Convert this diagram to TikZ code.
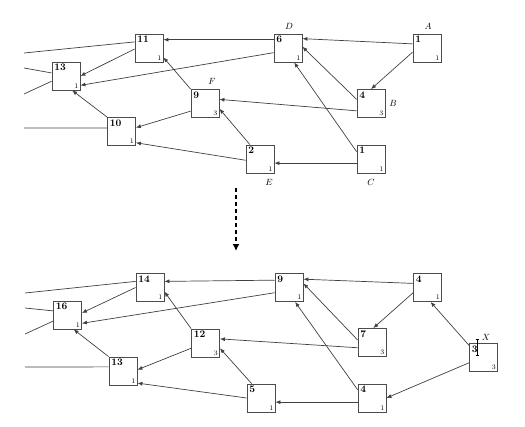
\documentclass[tikz,border=0pt]{standalone}
\usepackage{tikz}
\usetikzlibrary{arrows.meta,calc}

\tikzset{
  blk/.style={draw=black!70, line width=0.8pt, minimum size=28pt, inner sep=0pt, fill=white},
  num/.style={label={[anchor=north west, inner sep=2.5pt, font=\bfseries]north west:#1}},
  wt/.style={label={[anchor=south east, inner sep=1.8pt, font=\scriptsize]south east:#1}},
  lbl/.style={font=\small, inner sep=0pt},
  edge/.style={draw=black!75, line width=0.7pt, -{Latex[length=5pt,width=4pt]}},
  wire/.style={draw=black!75, line width=0.7pt},
}

\begin{document}
\begin{tikzpicture}[x=1pt,y=-1pt]
    \useasboundingbox (0,0) rectangle (525,426);

    % upper graph
    \node[blk,num=11,wt=1] (a11) at (149,48) {};
    \node[blk,num=6,wt=1] (a6) at (288,48) {};
    \node[blk,num=1,wt=1] (aA) at (427,48) {};
    \node[blk,num=4,wt=3] (aB) at (371,103.5) {};
    \node[blk,num=1,wt=1] (aC) at (371,159) {};
    \node[blk,num=2,wt=1] (aE) at (260,159) {};
    \node[blk,num=9,wt=3] (aF) at (205,103.5) {};
    \node[blk,num=13,wt=1] (a13) at (66,76) {};
    \node[blk,num=10,wt=1] (a10) at (121.5,131.5) {};

    \node[lbl] (lA) at (428,26) {$A$};
    \node[lbl] (lB) at (393,103) {$B$};
    \node[lbl] (lC) at (371,182) {$C$};
    \node[lbl] (lD) at (289,26) {$D$};
    \node[lbl] (lE) at (269,182) {$E$};
    \node[lbl] (lF) at (212,81) {$F$};

    \draw[edge] (aA.164) -- (a6.33);
    \draw[edge] (aA.196) -- (aB.north);
    \draw[edge] (aB.164) -- (a6.5);
    \draw[edge] (aC.153) -- (a6.293);
    \draw[edge] (aC.196) -- (aE.344);
    \draw[edge] (aB.207) -- (aF.16);
    \draw[edge] (aE.125) -- (aF.340);
    \draw[edge] (aE.185) -- (a10.322);
    \draw[edge] (aF.208) -- (a10.15);
    \draw[edge] (aF.north west) -- (a11.327);
    \draw[edge] (a6.150) -- (a11.30);
    \draw[edge] (a6.198) -- (a13.327);
    \draw[edge] (a11.184) -- (a13.east);
    \draw[edge] (a10.north west) -- (a13.293);

    \coordinate (wa1) at (24,53);
    \coordinate (wa2) at (24,68);
    \coordinate (wa3) at (24,94);
    \coordinate (wa4) at (24,128);
    \draw[wire] (a11.157) -- (wa1);
    \draw[wire] (a13.168) -- (wa2);
    \draw[wire] (a13.200) -- (wa3);
    \draw[wire] (a10.166) -- (wa4);

    % step between the two
    \coordinate (d1) at (236,188);
    \coordinate (d2) at (236,251);
    \draw[line width=1.8pt, dash pattern=on 4pt off 3pt, -{Latex[length=7pt,width=7pt]}] (d1) -- (d2);

    % lower graph
    \node[blk,num=14,wt=1] (b14) at (150,287.5) {};
    \node[blk,num=9,wt=1] (b9) at (289,287.5) {};
    \node[blk,num=4,wt=1] (b4a) at (427.5,287.5) {};
    \node[blk,num=7,wt=3] (b7) at (372,342.5) {};
    \node[blk,num=3,wt=3] (bX) at (483.5,357.5) {};
    \node[blk,num=4,wt=1] (b4b) at (372,398) {};
    \node[blk,num=5,wt=1] (b5) at (261,398) {};
    \node[blk,num=12,wt=3] (b12) at (205.5,343) {};
    \node[blk,num=16,wt=1] (b16) at (67.5,315) {};
    \node[blk,num=13,wt=1] (b13) at (123,371) {};

    \node[lbl] (lX) at (486,337) {$X$};
    \draw[line width=0.5pt] (477,339) -- (477,355);
    \draw[line width=0.5pt] (475.5,339) -- (478.5,339);
    \draw[line width=0.5pt] (475.5,355) -- (478.5,355);

    \draw[edge] (b4a.164) -- (b9.30);
    \draw[edge] (b4a.200) -- (b7.85);
    \draw[edge] (bX.140) -- (b4a.282);
    \draw[edge] (bX.200) -- (b4b.east);
    \draw[edge] (b7.170) -- (b9.16);
    \draw[edge] (b7.200) -- (b12.16);
    \draw[edge] (b4b.150) -- (b9.293);
    \draw[edge] (b4b.196) -- (b5.344);
    \draw[edge] (b5.123) -- (b12.340);
    \draw[edge] (b5.west) -- (b13.320);
    \draw[edge] (b12.200) -- (b13.5);
    \draw[edge] (b12.north west) -- (b14.344);
    \draw[edge] (b9.153) -- (b14.23);
    \draw[edge] (b9.200) -- (b16.330);
    \draw[edge] (b14.west) -- (b16.8);
    \draw[edge] (b13.north west) -- (b16.293);

    \coordinate (wb1) at (25,293);
    \coordinate (wb2) at (25,308);
    \coordinate (wb3) at (25,334);
    \coordinate (wb4) at (25,367);
    \draw[wire] (b14.157) -- (wb1);
    \draw[wire] (b16.164) -- (wb2);
    \draw[wire] (b16.203) -- (wb3);
    \draw[wire] (b13.164) -- (wb4);
\end{tikzpicture}
\end{document}
